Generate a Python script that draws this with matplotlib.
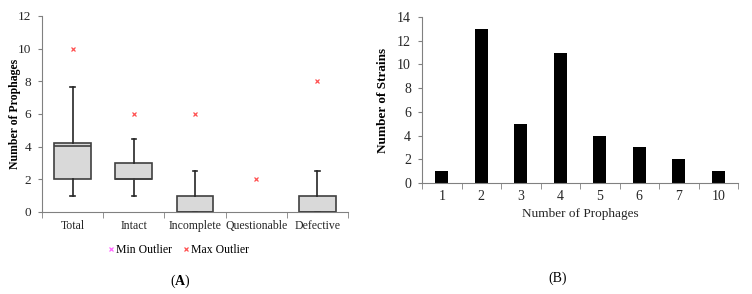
import numpy as np
import matplotlib
matplotlib.use("Agg")
import matplotlib.pyplot as plt

plt.rcParams['font.family'] = ['Liberation Serif', 'DejaVu Serif']
plt.rcParams['mathtext.fontset'] = 'custom'
plt.rcParams['mathtext.rm'] = 'Liberation Serif'
plt.rcParams['mathtext.bf'] = 'Liberation Serif:bold'

# ---------- panel A data (box plot) ----------
categories = ['Total', 'Intact', 'Incomplete', 'Questionable', 'Defective']
whis_lo = [1, 1, 0, 0, 0]
q1 = [2, 2, 0, 0, 0]
medians = [4.05, 2, 0, 0, 0]
q3 = [4.25, 3, 1, 0, 1]
whis_hi = [7.65, 4.5, 2.5, 0, 2.5]
max_outliers = [10, 6, 6, 2, 8]

# ---------- panel B data (bars) ----------
n_prophages = ['1', '2', '3', '4', '5', '6', '7', '10']
n_strains = [1, 13, 5, 11, 4, 3, 2, 1]

W, H = 752, 294
fig = plt.figure(figsize=(W / 100, H / 100), dpi=100)

spine_col = '#808080'
text_col = '#262626'
fs = 8.5

# ---------- Panel A ----------
axA = fig.add_axes([42 / W, 1 - 212 / H, (348 - 42) / W, (212 - 16) / H])
stats, spos = [], []
for i in range(len(categories)):
    if q3[i] == 0 and whis_hi[i] == 0:
        continue  # nothing but an outlier (Questionable)
    stats.append(dict(med=medians[i], q1=q1[i], q3=q3[i],
                      whislo=whis_lo[i], whishi=whis_hi[i], fliers=[]))
    spos.append(i)
pos = np.arange(len(categories))
axA.bxp(stats, positions=spos, widths=0.6, patch_artist=True, showfliers=False,
        boxprops=dict(facecolor='#d9d9d9', edgecolor='#404040', linewidth=1.2),
        medianprops=dict(color='#404040', linewidth=1.2),
        whiskerprops=dict(color='#262626', linewidth=1.2),
        capprops=dict(color='#262626', linewidth=1.2),
        capwidths=0.07)
axA.plot(pos, max_outliers, linestyle='none', marker='x', color='#ff5050',
         markersize=3.2, markeredgewidth=0.9)
axA.set_xlim(-0.5, len(categories) - 0.5)
axA.set_ylim(0, 12)
axA.set_yticks(np.arange(0, 13, 2))
axA.set_xticks(pos)
axA.set_xticklabels(categories, fontsize=fs, color=text_col)
axA.set_xticks(np.arange(-0.5, len(categories)), minor=True)
axA.tick_params(axis='x', which='major', length=0, pad=6)
axA.tick_params(axis='x', which='minor', length=4, color=spine_col)
axA.tick_params(axis='y', length=3, color=spine_col, labelsize=9.5,
                labelcolor=text_col, pad=5)
axA.set_ylabel('Number of Prophages', fontsize=fs, fontweight='bold')
axA.yaxis.set_label_coords(-0.07, 0.5)
for s in ['top', 'right']:
    axA.spines[s].set_visible(False)
for s in ['left', 'bottom']:
    axA.spines[s].set_color(spine_col)

# legend
h1 = axA.plot([], [], linestyle='none', marker='x', color='#ff66ff',
              markersize=3.2, markeredgewidth=0.9, label='Min Outlier')[0]
h2 = axA.plot([], [], linestyle='none', marker='x', color='#ff5050',
              markersize=3.2, markeredgewidth=0.9, label='Max Outlier')[0]
fig.legend(handles=[h1, h2], loc='center', bbox_to_anchor=(179 / W, 1 - 250 / H),
           ncol=2, frameon=False, fontsize=fs, handlelength=0.4,
           handletextpad=0.2, columnspacing=1.0)

fig.text(180 / W, 1 - 281 / H, r'($\mathbf{A}$)', fontsize=10,
         ha='center', va='center')

# ---------- Panel B ----------
axB = fig.add_axes([422 / W, 1 - 183 / H, (738 - 422) / W, (183 - 17) / H])
xb = np.arange(len(n_prophages))
axB.bar(xb, n_strains, width=0.32, color='black')
axB.set_xlim(-0.5, len(n_prophages) - 0.5)
axB.set_ylim(0, 14)
axB.set_yticks(np.arange(0, 15, 2))
axB.set_xticks(xb)
axB.set_xticklabels(n_prophages, fontsize=10, color=text_col)
axB.set_xticks(np.arange(-0.5, len(n_prophages)), minor=True)
axB.tick_params(axis='x', which='major', length=0, pad=5)
axB.tick_params(axis='x', which='minor', length=4, color=spine_col)
axB.tick_params(axis='y', length=3, color=spine_col, labelsize=10,
                labelcolor=text_col, pad=5)
axB.set_ylabel('Number of Strains', fontsize=9.5, fontweight='bold')
axB.yaxis.set_label_coords(-0.104, 0.5)
axB.set_xlabel('Number of Prophages', fontsize=9.5, color=text_col, labelpad=4)
for s in ['top', 'right']:
    axB.spines[s].set_visible(False)
for s in ['left', 'bottom']:
    axB.spines[s].set_color(spine_col)

fig.text(558 / W, 1 - 278 / H, '(B)', fontsize=10, ha='center', va='center')

fig.savefig('out.png', dpi=100)
